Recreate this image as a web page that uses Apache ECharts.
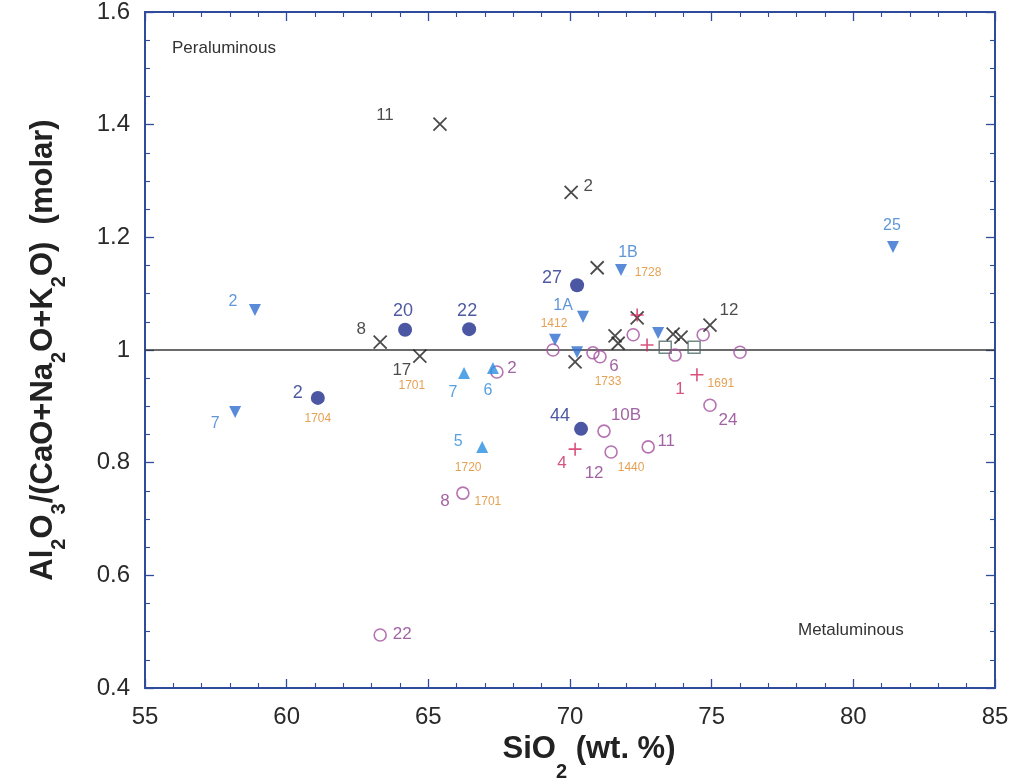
<!DOCTYPE html>
<html>
<head>
<meta charset="utf-8">
<script src="https://cdn.jsdelivr.net/npm/echarts@6/dist/echarts.min.js"></script>
<style>
  html, body { margin: 0; padding: 0; background: #ffffff; }
  #chart { width: 1013px; height: 778px; }
</style>
</head>
<body>
<div id="chart"></div>
<script>
// ---- Data: SiO2 (wt. %) vs. A/CNK, grouped by symbol ----
const crossSiO2 = [65.41, 70.04, 70.96, 63.30, 64.70, 70.18, 71.59, 71.70, 72.37, 73.64, 73.92, 74.94];
const crossAcnk = [1.401, 1.280, 1.146, 1.014, 0.989, 0.979, 1.025, 1.012, 1.057, 1.028, 1.023, 1.044];
const crossIds  = ['11', '2', '', '8', '17', '', '', '', '', '', '', '12'];

const dotSiO2 = [61.10, 64.18, 66.44, 70.25, 70.39];
const dotAcnk = [0.915, 1.036, 1.037, 1.115, 0.860];
const dotIds  = ['2', '20', '22', '27', '44'];

const downTriSiO2 = [58.88, 58.18, 70.46, 69.47, 70.25, 71.80, 73.11, 81.40];
const downTriAcnk = [1.071, 0.890, 1.059, 1.018, 0.996, 1.142, 1.030, 1.183];
const downTriIds  = ['2', '7', '1A', '', '', '1B', '', '25'];

const upTriSiO2 = [66.26, 66.90, 67.28];
const upTriAcnk = [0.959, 0.828, 0.968];
const upTriIds  = ['7', '5', '6'];

const ringSiO2 = [67.42, 69.40, 70.81, 71.06, 72.23, 73.71, 74.70, 76.00, 74.94, 71.20, 71.45, 72.76, 66.22, 63.30];
const ringAcnk = [0.961, 1.000, 0.995, 0.988, 1.027, 0.991, 1.027, 0.996, 0.902, 0.856, 0.819, 0.828, 0.746, 0.494];
const ringIds  = ['2', '', '', '6', '', '', '', '', '24', '10B', '12', '11', '8', '22'];

const plusSiO2 = [72.72, 74.48, 70.18, 72.37];
const plusAcnk = [1.009, 0.956, 0.824, 1.062];
const plusIds  = ['', '1', '4', ''];

const squareSiO2 = [73.36, 74.38];
const squareAcnk = [1.005, 1.005];

// Secondary sample numbers and the point each one belongs to
const sampleTags   = ['1704', '1701', '1412', '1728', '1733', '1691', '1720', '1440', '1701'];
const sampleAnchor = [['dot', 0], ['cross', 4], ['downTri', 2], ['downTri', 5], ['ring', 3],
                      ['plus', 1], ['upTri', 1], ['ring', 10], ['ring', 12]];

// A/CNK = 1 boundary
const boundarySiO2 = [55, 85];
const boundaryAcnk = [1, 1];

// Axis ranges
const xRange = [55, 85];
const yRange = [0.4, 1.6];

// ---- Layout of the point labels (pixel offsets from the point centre) ----
const labelOffsets = {
  cross:   [[-55, -9], [17, -6], null, [-19, -13], [-18, 14], null, null, null, null, null, null, [19, -15]],
  dot:     [[-20, -5], [-2, -19], [-2, -18], [-25, -7], [-21, -13]],
  downTri: [[-22, -8], [-20, 12], [-20, -11], null, null, [7, -17], null, [-1, -21]],
  upTri:   [[-11, 19], [-24, -5], [-5, 23]],
  ring:    [[15, -4], null, null, [14, 10], null, null, null, null, [18, 15], [22, -16], [-17, 21], [18, -6], [-18, 8], [22, -1]],
  plus:    [null, [-17, 15], [-13, 14], null]
};
const tagOffsets = [[0, 21], [-8, 29], [-29, 7], [27, 3], [8, 25], [24, 9], [-14, 21], [20, 16], [25, 9]];

const FONT = '"Liberation Sans", Arial, Helvetica, sans-serif';
const groups = {
  cross:   { xs: crossSiO2,   ys: crossAcnk,   ids: crossIds },
  dot:     { xs: dotSiO2,     ys: dotAcnk,     ids: dotIds },
  downTri: { xs: downTriSiO2, ys: downTriAcnk, ids: downTriIds },
  upTri:   { xs: upTriSiO2,   ys: upTriAcnk,   ids: upTriIds },
  ring:    { xs: ringSiO2,    ys: ringAcnk,    ids: ringIds },
  plus:    { xs: plusSiO2,    ys: plusAcnk,    ids: plusIds }
};

function pointData(key) {
  const g = groups[key];
  return g.xs.map((x, i) => {
    const id = g.ids[i];
    const off = labelOffsets[key][i];
    return {
      value: [x, g.ys[i]],
      label: id ? { show: true, formatter: id, position: 'inside', offset: off || [0, 0] } : { show: false }
    };
  });
}

function labelStyle(color, size) {
  return { color: color, fontSize: size || 16, fontFamily: FONT };
}

const tagData = sampleTags.map((t, i) => {
  const a = sampleAnchor[i];
  const g = groups[a[0]];
  return {
    value: [g.xs[a[1]], g.ys[a[1]]],
    label: { show: true, formatter: t, position: 'inside', offset: tagOffsets[i] }
  };
});

const frameColor = '#2f4c9c';
// subscripts of the axis titles: the top padding pushes the digit below the baseline
const xTitleRich = { s: { fontSize: 20, fontWeight: 'bold', fontFamily: FONT, color: '#222', padding: [46, 0, 0, 0] } };
const yTitleRich = { s: { fontSize: 20, fontWeight: 'bold', fontFamily: FONT, color: '#222', padding: [32, 0, 0, 0] } };

function tickAxis(extra) {
  return Object.assign({
    type: 'value',
    axisLine: { show: false },
    splitLine: { show: false },
    axisTick: { show: true, inside: true, length: 9, lineStyle: { color: frameColor, width: 1.3 } },
    minorTick: { show: true, length: 5, lineStyle: { color: frameColor, width: 1.1 } }
  }, extra);
}

const chart = echarts.init(document.getElementById('chart'), null, { renderer: 'canvas' });
chart.setOption({
  backgroundColor: '#ffffff',
  animation: false,
  grid: {
    left: 145, right: 18, top: 12, bottom: 90,
    containLabel: false, outerBoundsMode: 'none',
    show: true, borderColor: frameColor, borderWidth: 2, backgroundColor: 'transparent'
  },
  xAxis: [
    tickAxis({
      min: xRange[0], max: xRange[1], interval: 5, position: 'bottom',
      minorTick: { show: true, splitNumber: 5, length: 5, lineStyle: { color: frameColor, width: 1.1 } },
      axisLabel: { show: true, margin: 17, fontSize: 24, color: '#2a2a2a', fontFamily: FONT },
      name: 'SiO{s|2} (wt. %)',
      nameLocation: 'middle',
      nameGap: 13,
      nameTextStyle: {
        fontSize: 31, fontWeight: 'bold', color: '#222', fontFamily: FONT,
        padding: [0, 0, 0, 38], rich: xTitleRich
      }
    }),
    tickAxis({
      min: xRange[0], max: xRange[1], interval: 5, position: 'top',
      minorTick: { show: true, splitNumber: 5, length: 5, lineStyle: { color: frameColor, width: 1.1 } },
      axisLabel: { show: false }
    })
  ],
  yAxis: [
    tickAxis({
      min: yRange[0], max: yRange[1], interval: 0.2, position: 'left',
      minorTick: { show: true, splitNumber: 4, length: 5, lineStyle: { color: frameColor, width: 1.1 } },
      axisLabel: {
        show: true, margin: 15, fontSize: 24, color: '#2a2a2a', fontFamily: FONT,
        formatter: v => String(+v.toFixed(1))
      },
      name: 'Al{s|2}O{s|3}/(CaO+Na{s|2}O+K{s|2}O)  (molar)',
      nameLocation: 'middle',
      nameRotate: 90,
      nameGap: 76,
      nameTextStyle: { fontSize: 31, fontWeight: 'bold', color: '#222', fontFamily: FONT, rich: yTitleRich }
    }),
    tickAxis({
      min: yRange[0], max: yRange[1], interval: 0.2, position: 'right',
      minorTick: { show: true, splitNumber: 4, length: 5, lineStyle: { color: frameColor, width: 1.1 } },
      axisLabel: { show: false }
    })
  ],
  graphic: [
    { type: 'text', left: 172, top: 40, style: { text: 'Peraluminous', fontSize: 17, fill: '#333', fontFamily: FONT } },
    { type: 'text', left: 798, top: 622, style: { text: 'Metaluminous', fontSize: 17, fill: '#333', fontFamily: FONT } }
  ],
  series: [
    {
      type: 'line', name: 'A/CNK = 1',
      data: boundarySiO2.map((x, i) => [x, boundaryAcnk[i]]),
      symbol: 'none', silent: true, z: 1,
      lineStyle: { color: '#3a3a3a', width: 1.6 }
    },
    {
      type: 'scatter', name: 'squares',
      data: squareSiO2.map((x, i) => [x, squareAcnk[i]]),
      symbol: 'rect', symbolSize: 12, z: 2,
      itemStyle: { color: 'rgba(255,255,255,0)', borderColor: '#4d6b66', borderWidth: 1.5 }
    },
    {
      type: 'scatter', name: 'rings', data: pointData('ring'),
      symbol: 'circle', symbolSize: 12, z: 3,
      itemStyle: { color: 'rgba(255,255,255,0)', borderColor: '#a4509e', borderWidth: 1.6 },
      label: labelStyle('#8a3c8c', 17)
    },
    {
      type: 'scatter', name: 'down triangles', data: pointData('downTri'),
      symbol: 'path://M0,0L10,0L5,10Z', symbolSize: 12, z: 4,
      itemStyle: { color: '#2f6ed0' },
      label: labelStyle('#3a7ccc', 16)
    },
    {
      type: 'scatter', name: 'up triangles', data: pointData('upTri'),
      symbol: 'triangle', symbolSize: 12, z: 4,
      itemStyle: { color: '#2a8ee0' },
      label: labelStyle('#2e8ad6', 16)
    },
    {
      type: 'scatter', name: 'dots', data: pointData('dot'),
      symbol: 'circle', symbolSize: 14, z: 4,
      itemStyle: { color: '#1f2d8c' },
      label: labelStyle('#22308a', 18)
    },
    {
      type: 'scatter', name: 'crosses', data: pointData('cross'),
      symbol: 'path://M0,0L10,10M10,0L0,10', symbolSize: 13, z: 5,
      itemStyle: { color: 'rgba(0,0,0,0)', borderColor: '#1e1e1e', borderWidth: 1.8 },
      label: labelStyle('#1e1e1e', 17)
    },
    {
      type: 'scatter', name: 'plus', data: pointData('plus'),
      symbol: 'path://M5,0L5,10M0,5L10,5', symbolSize: 13, z: 6,
      itemStyle: { color: 'rgba(0,0,0,0)', borderColor: '#d0275a', borderWidth: 1.6 },
      label: labelStyle('#c82a5c', 17)
    },
    {
      type: 'scatter', name: 'sample numbers', data: tagData,
      symbolSize: 0, silent: true, z: 7,
      label: { show: true, color: '#e08a28', fontSize: 12, fontFamily: FONT }
    }
  ]
});
</script>
</body>
</html>
